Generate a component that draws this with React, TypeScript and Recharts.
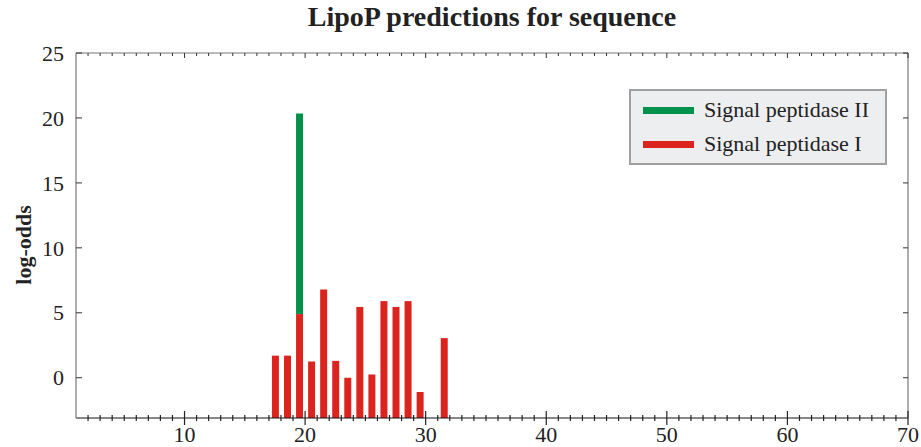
import { ComposedChart, Bar, XAxis, YAxis } from "recharts";

// cleavage-site positions and log-odds scores
const positions = [17, 18, 19, 20, 21, 22, 23, 24, 25, 26, 27, 28, 29, 31];
const spI = [1.7, 1.7, 4.9, 1.25, 6.8, 1.3, 0, 5.45, 0.25, 5.9, 5.45, 5.9, -1.1, 3.05];
const spII = [null, null, 20.35, null, null, null, null, null, null, null, null, null, null, null];

const xMajor = [10, 20, 30, 40, 50, 60, 70];
const xMinor = Array.from({ length: 69 }, (_, i) => i + 2);
const yTicks = [0, 5, 10, 15, 20, 25];

const Y_MIN = -3.1;
const Y_MAX = 25;
const RED = "#dc241f";
const GREEN = "#00924a";
const FONT = '"Liberation Serif", "Times New Roman", serif';

const series = [
  { name: "Signal peptidase II", color: GREEN },
  { name: "Signal peptidase I", color: RED },
];

const data = positions.map((p, i) => ({
  pos: p,
  spI: spI[i],
  spII: spII[i],
}));

const BottomTick = (props: any) => {
  const { x, y, payload } = props;
  const major = xMajor.includes(payload.value);
  return (
    <g>
      <line x1={x} x2={x} y1={y - (major ? 7 : 3)} y2={y + (major ? 7 : 3)} stroke="#222" strokeWidth={1.2} />
      {major && (
        <text x={x} y={y + 24} textAnchor="middle" fontSize={22} fontFamily={FONT} fill="#222">
          {payload.value}
        </text>
      )}
    </g>
  );
};

// top axis (height 1): y is its bottom edge, i.e. the frame line
const TopTick = (props: any) => {
  const { x, y, payload } = props;
  const major = xMajor.includes(payload.value);
  return <line x1={x} x2={x} y1={y} y2={y + (major ? 5 : 3)} stroke="#333" strokeWidth={1} />;
};

const LeftTick = (props: any) => {
  const { x, y, payload } = props;
  return (
    <g>
      <line x1={x} x2={x + 6} y1={y} y2={y} stroke="#333" strokeWidth={1} />
      <text x={x - 12} y={y} dy="0.35em" textAnchor="end" fontSize={22} fontFamily={FONT} fill="#222">
        {payload.value}
      </text>
    </g>
  );
};

const RightTick = (props: any) => {
  const { x, y } = props;
  return <line x1={x - 5} x2={x} y1={y} y2={y} stroke="#333" strokeWidth={1} />;
};

const LegendBox = () => (
  <div
    style={{
      position: "absolute",
      left: 629,
      top: 89,
      width: 254,
      height: 72,
      background: "#edeef0",
      border: "2px solid #a0a0a0",
      fontFamily: FONT,
      fontSize: 22,
      color: "#222",
    }}
  >
    {series.map((item, i) => (
      <div
        key={item.name}
        style={{ position: "absolute", left: 12, top: 5 + i * 34, height: 28, display: "flex", alignItems: "center" }}
      >
        <div style={{ width: 51, height: 7, background: item.color, marginRight: 10 }} />
        <span style={{ lineHeight: "28px", whiteSpace: "nowrap" }}>{item.name}</span>
      </div>
    ))}
  </div>
);

export default function App() {
  return (
    <div style={{ position: "absolute", left: 0, top: 0, width: 921, height: 447, background: "#fff" }}>
      <div
        style={{
          position: "absolute",
          left: 76,
          width: 832,
          top: 1,
          textAlign: "center",
          fontFamily: FONT,
          fontWeight: "bold",
          fontSize: 28,
          color: "#222",
        }}
      >
        LipoP predictions for sequence
      </div>
      <ComposedChart
        width={921}
        height={447}
        data={data}
        margin={{ top: 52, right: 12, bottom: 0, left: 0 }}
        style={{ position: "absolute", left: 0, top: 0 }}
      >
        <XAxis
          xAxisId="bottom"
          type="number"
          dataKey={(d: any) => d.pos + 0.5}
          domain={[1, 70]}
          ticks={xMinor}
          interval={0}
          allowDataOverflow
          height={29}
          tickSize={0}
          tickMargin={0}
          tickLine={false}
          tick={<BottomTick />}
          axisLine={{ stroke: "#111", strokeWidth: 1.2 }}
        />
        <XAxis
          xAxisId="top"
          orientation="top"
          type="number"
          dataKey={(d: any) => d.pos + 0.5}
          domain={[1, 70]}
          ticks={xMinor}
          interval={0}
          allowDataOverflow
          height={1}
          tickSize={0}
          tickMargin={0}
          tickLine={false}
          tick={<TopTick />}
          axisLine={{ stroke: "#777", strokeWidth: 1.2 }}
        />
        <YAxis
          yAxisId="left"
          type="number"
          domain={[Y_MIN, Y_MAX]}
          ticks={yTicks}
          interval={0}
          allowDataOverflow
          width={76}
          tickSize={0}
          tickMargin={0}
          tickLine={false}
          tick={<LeftTick />}
          axisLine={{ stroke: "#777", strokeWidth: 1.2 }}
          label={() => (
            <text
              x={23}
              y={245}
              transform="rotate(-90 23 245)"
              textAnchor="middle"
              dy="0.35em"
              fontSize={22}
              fontWeight="bold"
              fontFamily={FONT}
              fill="#222"
            >
              log-odds
            </text>
          )}
        />
        <YAxis
          yAxisId="right"
          orientation="right"
          type="number"
          domain={[Y_MIN, Y_MAX]}
          ticks={yTicks}
          interval={0}
          allowDataOverflow
          width={1}
          tickSize={0}
          tickMargin={0}
          tickLine={false}
          tick={<RightTick />}
          axisLine={{ stroke: "#777", strokeWidth: 1.2 }}
        />
        <Bar
          name="Signal peptidase II"
          xAxisId="top"
          yAxisId="left"
          dataKey={(d: any) => (d.spII == null ? null : [d.spI, d.spII])}
          fill={GREEN}
          barSize={7}
          isAnimationActive={false}
        />
        <Bar
          name="Signal peptidase I"
          xAxisId="bottom"
          yAxisId="left"
          dataKey={(d: any) => [Y_MIN, d.spI]}
          fill={RED}
          barSize={7}
          isAnimationActive={false}
        />
      </ComposedChart>
      <LegendBox />
    </div>
  );
}
